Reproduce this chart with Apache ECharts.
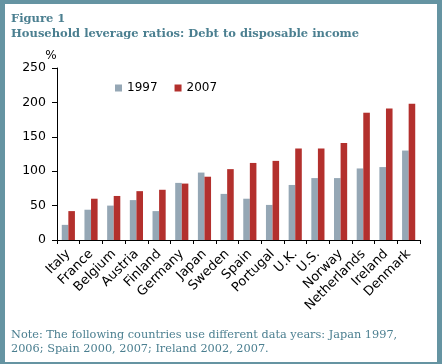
<!DOCTYPE html>
<html><head><meta charset="utf-8">
<script src="https://cdn.jsdelivr.net/npm/echarts@6/dist/echarts.min.js"></script>
<style>html,body{margin:0;padding:0;background:#fff}#c{width:442px;height:364px}</style>
</head><body><div id="c"></div>
<script>
const categories = ['Italy','France','Belgium','Austria','Finland','Germany','Japan','Sweden','Spain','Portugal','U.K.','U.S.','Norway','Netherlands','Ireland','Denmark'];
const values1997 = [22, 44, 50, 58, 42, 83, 98, 67, 60, 51, 80, 90, 90, 104, 106, 130];
const values2007 = [42, 60, 64, 71, 73, 82, 92, 103, 112, 115, 133, 133, 141, 185, 191, 198];
const yTicks = {min: 0, max: 250, interval: 50};
const seriesNames = ['1997', '2007'];

const chart = echarts.init(document.getElementById('c'), null, {renderer: 'canvas'});
const teal = '#4b7f90';
chart.setOption({
  backgroundColor: '#6594a2',
  animation: false,
  graphic: [
    {type: 'rect', shape: {x: 5, y: 4, width: 432, height: 358}, style: {fill: '#ffffff'}, z: -10, silent: true},
    {type: 'text', left: 11, top: 13, style: {text: 'Figure 1', font: 'bold 11.5px "DejaVu Serif"', fill: teal}},
    {type: 'text', left: 11, top: 28, style: {text: 'Household leverage ratios: Debt to disposable income', font: 'bold 11.5px "DejaVu Serif"', fill: teal}},
    {type: 'text', left: 11, top: 328, style: {text: 'Note: The following countries use different data years: Japan 1997,\n2006; Spain 2000, 2007; Ireland 2002, 2007.', font: '11.3px "DejaVu Serif"', fill: teal, lineHeight: 14}}
  ],
  legend: {
    left: 115, top: 82, padding: 0, itemWidth: 7, itemHeight: 7, itemGap: 17,
    icon: 'rect',
    textStyle: {fontFamily: 'DejaVu Sans', fontSize: 12, color: '#000'},
    data: seriesNames
  },
  grid: {left: 57, right: 22, top: 68, bottom: 124, containLabel: false},
  xAxis: {
    type: 'category', data: categories,
    axisLine: {lineStyle: {color: '#000', width: 1}},
    axisTick: {show: true, length: 4, alignWithLabel: false, lineStyle: {color: '#000'}},
    axisLabel: {rotate: 45, interval: 0, margin: 12, fontFamily: 'DejaVu Sans', fontSize: 13, color: '#000'}
  },
  yAxis: {
    type: 'value', min: yTicks.min, max: yTicks.max, interval: yTicks.interval,
    name: '%', nameLocation: 'end', nameGap: 5,
    nameTextStyle: {fontFamily: 'DejaVu Sans', fontSize: 12, color: '#000', align: 'center', padding: [0, 12, 0, 0]},
    axisLine: {show: true, lineStyle: {color: '#000', width: 1}},
    axisTick: {show: true, length: 5, lineStyle: {color: '#000'}},
    axisLabel: {margin: 11, fontFamily: 'DejaVu Sans', fontSize: 12.5, color: '#000'},
    splitLine: {show: false}
  },
  series: [
    {name: seriesNames[0], type: 'bar', data: values1997, itemStyle: {color: '#95a7b5'}, barGap: '0%', barCategoryGap: '42%'},
    {name: seriesNames[1], type: 'bar', data: values2007, itemStyle: {color: '#b3302d'}, barGap: '0%', barCategoryGap: '42%'}
  ]
});
</script></body></html>
